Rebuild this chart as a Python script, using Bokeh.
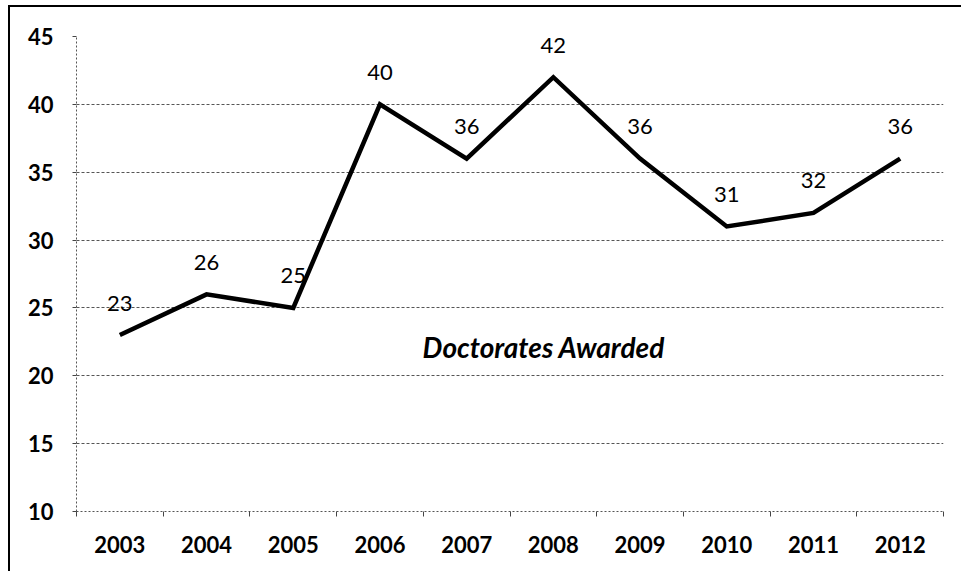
from bokeh.plotting import figure
from bokeh.models import ColumnDataSource, FixedTicker, Label, Range1d
from bokeh.core.properties import value
from bokeh.embed import file_html
from bokeh.resources import INLINE

# Doctorates awarded per year
years = ["2003", "2004", "2005", "2006", "2007", "2008", "2009", "2010", "2011", "2012"]
doctorates = [23, 26, 25, 40, 36, 42, 36, 31, 32, 36]
y_ticks = [10, 15, 20, 25, 30, 35, 40, 45]
chart_label = "Doctorates Awarded"

# each year sits in the middle of its own unit-wide slot
x_pos = [i + 0.5 for i in range(len(years))]
source = ColumnDataSource(data=dict(x=x_pos, y=doctorates, year=years,
                                    label=[str(v) for v in doctorates]))

p = figure(width=953, height=566, output_backend="svg", toolbar_location=None,
           x_range=Range1d(0, len(years)), y_range=Range1d(10, 45),
           min_border_left=66, min_border_right=20, min_border_top=29,
           min_border_bottom=62)
p.margin = (5, 0, 0, 8)
p.styles = {"border-left": "2px solid #000", "border-top": "2px solid #000"}
p.background_fill_color = "white"
p.border_fill_color = "white"
p.outline_line_color = None

# line through the yearly counts
p.line("x", "y", source=source, line_color="black", line_width=4.5,
       line_join="miter")

# value labels above each point
p.text("x", "y", text="label", source=source, text_align="center",
       text_baseline="middle", y_offset=-32, text_font=value("Lato"),
       text_font_size="22px", text_color="black")

p.add_layout(Label(x=5.39, y=22.1, text=chart_label, text_align="center",
                   text_baseline="middle", text_font="Lato",
                   text_font_style="bold italic", text_font_size="28px",
                   text_color="black"))

# x axis: year labels centred in slots, ticks on the slot boundaries
xa = p.xaxis[0]
xa.ticker = FixedTicker(ticks=x_pos, minor_ticks=list(range(len(years) + 1)))
xa.major_label_overrides = {x: y for x, y in zip(x_pos, years)}
xa.major_tick_out = 0
xa.major_tick_in = 0
xa.minor_tick_out = 5
xa.minor_tick_in = 0
xa.minor_tick_line_color = "#444"
xa.axis_line_color = "#555"
xa.axis_line_dash = "2 2"
xa.major_label_standoff = 19
xa.major_label_text_font = "Lato"
xa.major_label_text_font_style = "bold"
xa.major_label_text_font_size = "22px"
xa.major_label_text_color = "black"

# y axis
ya = p.yaxis[0]
ya.ticker = FixedTicker(ticks=y_ticks)
ya.major_tick_out = 4
ya.major_tick_in = 0
ya.minor_tick_line_color = None
ya.major_tick_line_color = "#444"
ya.axis_line_color = "#555"
ya.axis_line_dash = "2 2"
ya.major_label_standoff = 19
ya.major_label_text_font = "Lato"
ya.major_label_text_font_style = "bold"
ya.major_label_text_font_size = "22px"
ya.major_label_text_color = "black"

p.xgrid.grid_line_color = None
p.ygrid.grid_line_color = "#555"
p.ygrid.grid_line_dash = "3 2"
p.ygrid.grid_line_width = 1

open("out.html", "w").write(file_html(p, INLINE))
